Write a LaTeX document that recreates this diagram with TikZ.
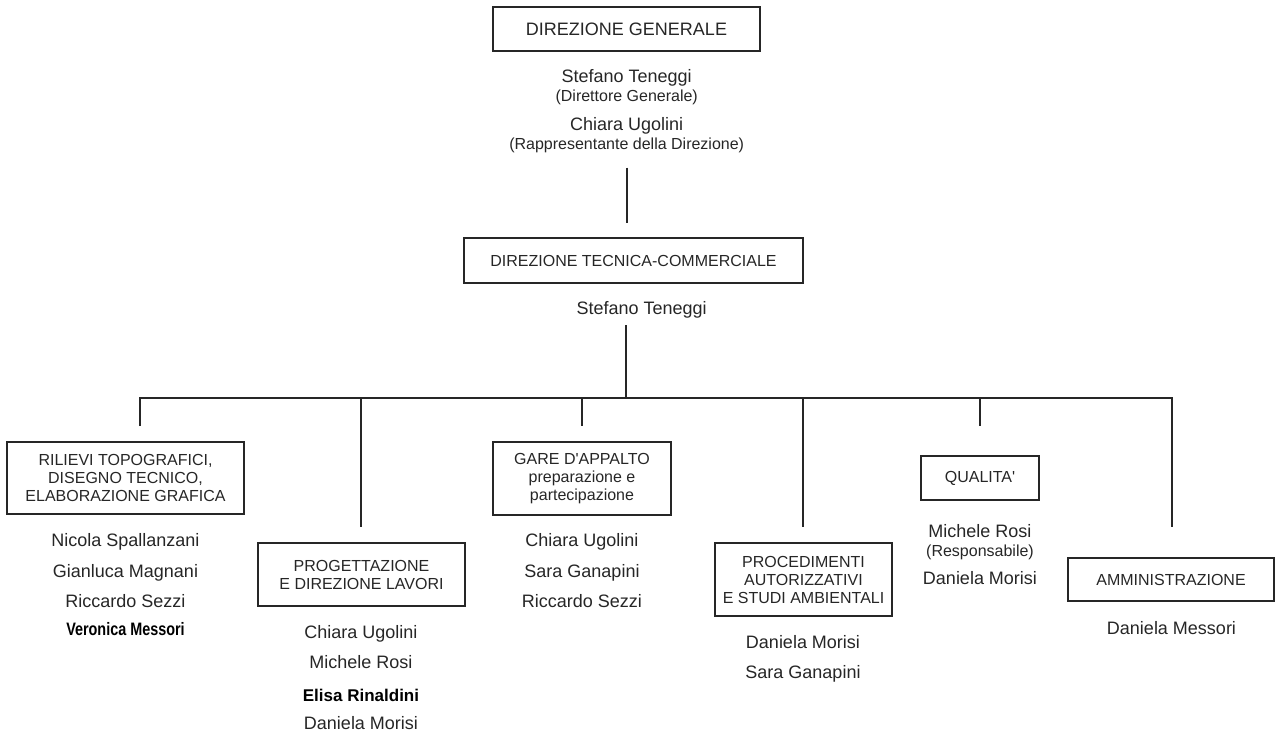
\documentclass[tikz,border=0pt]{standalone}
\usepackage{fontspec}
\setmainfont{Liberation Sans}
\newfontfamily\narrowfont[FakeStretch=0.8]{Liberation Sans}
\usetikzlibrary{positioning}

\begin{document}
\begin{tikzpicture}[x=0.5pt,y=-0.5pt,
    box/.style={draw=black!85,line width=0.9pt,inner sep=0pt,align=center,text=black!85,font=\fontsize{8}{9}\selectfont},
    persona/.style={anchor=base,inner sep=0pt,text=black!85,font=\fontsize{9}{10}\selectfont},
    ruolo/.style={anchor=base,inner sep=0pt,text=black!85,font=\fontsize{8}{9}\selectfont},
    link/.style={draw=black!85,line width=0.9pt}]
    \useasboundingbox (0,0) rectangle (1275,732);

    \node[box,font=\fontsize{9}{10}\selectfont,minimum width=133.5pt,minimum height=22pt] (dg) at (626.5,29) {DIREZIONE GENERALE};
    \node[persona] (dgnome) at (626.7,83) {Stefano Teneggi};
    \node[ruolo] (dgruolo) at (626.7,102) {(Direttore Generale)};
    \node[persona] (rdnome) at (626.7,131) {Chiara Ugolini};
    \node[ruolo] (rdruolo) at (626.7,150) {(Rappresentante della Direzione)};

    \node[box,minimum width=169.5pt,minimum height=22.5pt] (dtc) at (633.5,260.5) {DIREZIONE TECNICA-COMMERCIALE};
    \node[persona] (dtcnome) at (641.7,314.5) {Stefano Teneggi};

    \node[box,minimum width=118.5pt,minimum height=36pt] (ril) at (125.5,478) {RILIEVI TOPOGRAFICI,\\DISEGNO TECNICO,\\ELABORAZIONE GRAFICA};
    \node[box,minimum width=103.5pt,minimum height=31.5pt] (prog) at (361.5,574.5) {PROGETTAZIONE\\E DIREZIONE LAVORI};
    \node[box,minimum width=89pt,minimum height=36.5pt] (gare) at (582,478.5) {GARE D\textquotesingle APPALTO\\preparazione e\\partecipazione};
    \node[box,minimum width=88.5pt,minimum height=36.5pt] (proc) at (803.5,579.5) {PROCEDIMENTI\\AUTORIZZATIVI\\E STUDI AMBIENTALI};
    \node[box,minimum width=59pt,minimum height=22pt] (qual) at (980,478) {QUALITA\textquotesingle};
    \node[box,minimum width=103pt,minimum height=21.5pt] (amm) at (1171,579.5) {AMMINISTRAZIONE};

    \node[persona] (ril1) at (125.5,546.5) {Nicola Spallanzani};
    \node[persona] (ril2) at (125.5,577.5) {Gianluca Magnani};
    \node[persona] (ril3) at (125.5,607.5) {Riccardo Sezzi};
    \node[persona,text=black,font=\fontsize{9}{10}\narrowfont\bfseries] (ril4) at (125.5,635) {Veronica Messori};

    \node[persona] (prog1) at (361,638.5) {Chiara Ugolini};
    \node[persona] (prog2) at (361,668.5) {Michele Rosi};
    \node[persona,text=black,font=\fontsize{8.5}{10}\selectfont\bfseries] (prog3) at (361,701) {Elisa Rinaldini};
    \node[persona] (prog4) at (361,729.5) {Daniela Morisi};

    \node[persona] (gare1) at (582,546.5) {Chiara Ugolini};
    \node[persona] (gare2) at (582,577.5) {Sara Ganapini};
    \node[persona] (gare3) at (582,607.5) {Riccardo Sezzi};

    \node[persona] (proc1) at (803,648.5) {Daniela Morisi};
    \node[persona] (proc2) at (803,678.5) {Sara Ganapini};

    \node[persona] (qual1) at (980,537.5) {Michele Rosi};
    \node[ruolo] (qual2) at (980,556.5) {(Responsabile)};
    \node[persona] (qual3) at (980,584.5) {Daniela Morisi};

    \node[persona] (amm1) at (1171.5,634.5) {Daniela Messori};

    \coordinate (bus) at (626,398);
    \coordinate (b1) at (140,398);
    \coordinate (b2) at (361,398);
    \coordinate (b3) at (582,398);
    \coordinate (b4) at (803,398);
    \coordinate (b5) at (980,398);
    \coordinate (b6) at (1172,398);

    \path[link,shorten <=7pt,shorten >=7pt] (rdruolo.south) -- (rdruolo.south |- dtc.north);
    \path[link,shorten <=3.4pt] (dtcnome.south -| bus) -- (bus);
    \path[link,shorten <=7.5pt,shorten >=15pt] (b1 |- ril.north) -- (b1) -- (b6) -- (b6 |- amm.north);
    \path[link,shorten >=7.5pt] (b2) -- (b2 |- prog.north);
    \path[link,shorten >=7.5pt] (b3) -- (b3 |- gare.north);
    \path[link,shorten >=7.5pt] (b4) -- (b4 |- proc.north);
    \path[link,shorten >=14.5pt] (b5) -- (b5 |- qual.north);
\end{tikzpicture}
\end{document}
